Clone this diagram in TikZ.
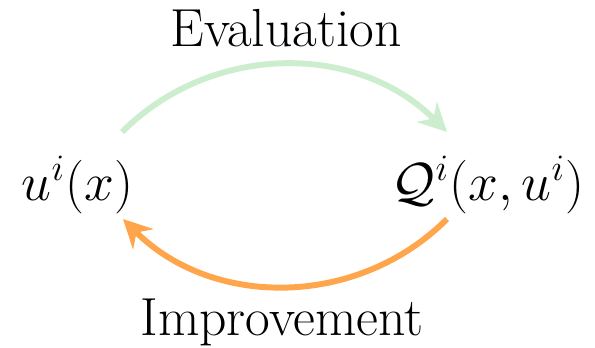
\documentclass[tikz,border=0pt]{standalone}
\usetikzlibrary{arrows.meta}
\definecolor{evalgreen}{RGB}{204,238,206}
\definecolor{improveorange}{RGB}{255,166,77}
\begin{document}
\begin{tikzpicture}[x=0.0136cm,y=-0.0136cm,>={Stealth[length=11pt,width=11pt,inset=3.6pt]},line width=2.3pt,main node/.style={font=\huge,inner sep=0pt}]
                \useasboundingbox (0,0) rectangle (595,347);
                \node[main node] (u) at (77.5,185) {$u^i(x)$};
                \node[main node] (Q) at (488,185) {$\mathcal{Q}^i(x,u^i)$};
                \node[main node] (eval) at (286,28) {Evaluation};
                \node[main node] (impr) at (282,322) {Improvement};

                \path[->]
                    ([shift={(44.5,-53)}]u.center) edge [evalgreen, bend left=45] ([shift={(-41,-53)}]Q.center)
                    ([shift={(-41,34)}]Q.center) edge [improveorange, bend left=45] ([shift={(45.5,34)}]u.center)
                    ;
            \end{tikzpicture}
\end{document}
